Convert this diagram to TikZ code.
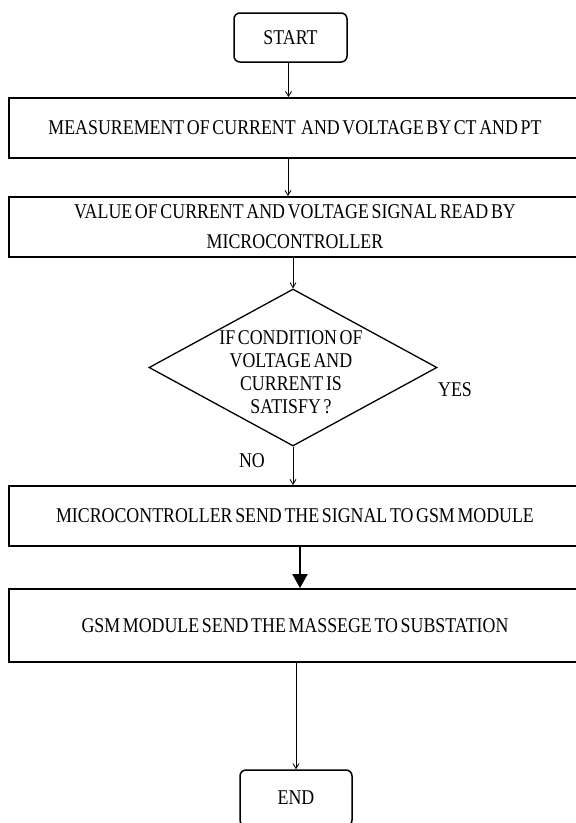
\documentclass[tikz,border=0pt]{standalone}
\usepackage{fontspec}
\setmainfont{Liberation Serif}[FakeStretch=0.85, WordSpace=0.6]
\usetikzlibrary{shapes.geometric, arrows.meta}
\newcommand\flowfont{\fontsize{21pt}{23pt}\selectfont}
\newcommand\boxfont{\fontsize{21pt}{30pt}\selectfont}
\begin{document}
\begin{tikzpicture}[x=1pt, y=-1pt,
  box/.style={draw, line width=1.8pt, minimum width=572pt, minimum height=60pt, inner sep=0pt, align=center, font=\boxfont},
  term/.style={draw, rounded corners=6pt, line width=1.5pt, minimum width=113pt, minimum height=49pt, inner sep=0pt, font=\flowfont},
  decision/.style={draw, diamond, aspect=1.83, line width=1.3pt, minimum width=288pt, minimum height=157pt, inner sep=0pt},
  lbl/.style={inner sep=0pt, align=center, font=\flowfont},
  arr/.style={-{Straight Barb[length=5pt,width=6pt]}, line width=0.8pt},
  thickarr/.style={-{Triangle[length=14pt,width=15pt]}, line width=2pt}]
\useasboundingbox (0,0) rectangle (576,823);
\fill[white] (0,0) rectangle (576,823);
\clip (0,0) rectangle (576,823);

\node[term] (start) at (290.5,37.5) {START};
\node[box] (box1) at (295,128) {MEASUREMENT OF CURRENT \ AND VOLTAGE BY CT AND PT};
\node[box] (box2) at (295,227) {VALUE OF CURRENT AND VOLTAGE SIGNAL READ BY\\MICROCONTROLLER};
\node[decision] (dec) at (293,367.5) {};
\node[lbl] (dectext) at (291,372) {IF CONDITION OF\\VOLTAGE AND\\CURRENT IS\\SATISFY ?};
\node[lbl] (yes) at (455,390) {YES};
\node[lbl] (no) at (252,461) {NO};
\node[box] (box3) at (295,516) {MICROCONTROLLER SEND THE SIGNAL TO GSM MODULE};
\node[box, minimum height=73pt] (box4) at (295,625.5) {GSM MODULE SEND THE MASSEGE TO SUBSTATION};
\node[term, minimum width=112pt, minimum height=56pt] (end) at (296,798) {END};

\draw[arr] ([xshift=-2pt]start.south) -- ([xshift=-2pt]start.south |- box1.north);
\draw[arr] ([xshift=-7pt]box1.south) -- ([xshift=-7pt]box2.north);
\draw[arr] ([xshift=-2pt]box2.south) -- (dec.north);
\draw[arr] (dec.south) -- (dec.south |- box3.north);
\draw[thickarr] ([xshift=5pt]box3.south) -- ([xshift=5pt]box4.north);
\draw[arr] (box4.south -| end.north) -- (end.north);
\end{tikzpicture}
\end{document}
